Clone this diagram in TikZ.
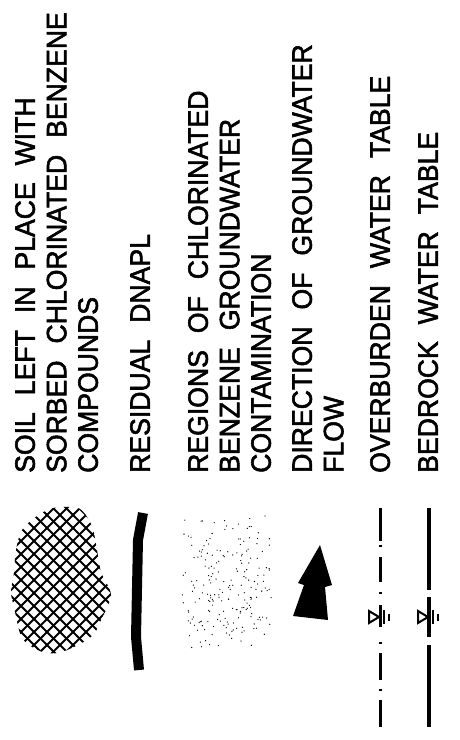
\documentclass[tikz,border=0pt]{standalone}
\usepackage{fontspec}
\setmainfont{Liberation Sans}[FakeStretch=0.95,WordSpace=2.3,FakeBold=2]
\usetikzlibrary{positioning}
\tikzset{legendtext/.style = {rotate=90, anchor=north west, inner sep=0,
                              align=left, font=\fontsize{28}{31.5}\selectfont}}
\tikzset{hatchline/.style = {line width=2}}
\tikzset{dnapl/.style = {line width=10, line join=round}}
\tikzset{obline/.style = {line width=3}}
\tikzset{brline/.style = {line width=3.5}}
\tikzset{wtsymbol/.pic = {
    \draw[line width=2] (-11,-6) -- (-11,6) -- (-1,0) -- cycle;
    \draw[line width=2] (4,-7) -- (4,7);
    \draw[line width=2] (9,-3.5) -- (9,3.5);
}}

\begin{document}
\begin{tikzpicture}[x=1pt,y=-1pt]
    \useasboundingbox (0,0) rectangle (459,740);
    % legend texts
    \node[legendtext] (soil) at (15,473)
        {SOIL LEFT IN PLACE WITH\\SORBED CHLORINATED BENZENE\\COMPOUNDS};
    \node[legendtext] (dnapl) at (130,473) {RESIDUAL DNAPL};
    \node[legendtext] (regions) at (188,473)
        {REGIONS OF CHLORINATED\\BENZENE GROUNDWATER\\CONTAMINATION};
    \node[legendtext] (flow) at (292,473) {DIRECTION OF GROUNDWATER\\FLOW};
    \node[legendtext] (overburden) at (370,473) {OVERBURDEN WATER TABLE};
    \node[legendtext] (bedrock) at (418,473) {BEDROCK WATER TABLE};
    % cross hatched soil
    \begin{scope}
      \clip plot[smooth cycle] coordinates {(62,507) (80,509) (92,526) (97,550)
          (101,572) (111,595) (101,620) (94,634) (80,644) (58,653) (40,651)
          (22,638) (14,607) (11,592) (14,573) (16,550) (22,530) (37,516) (50,509)};
      \foreach \k in {-150,-137,...,114} {
        \draw[hatchline] (\k,500) -- ++(160,160);
        \draw[hatchline] (\k,660) -- ++(160,-160);
      }
    \end{scope}
    % residual dnapl
    \draw[dnapl] (143,513) -- (138,540) -- (136,637) -- (139,670);
    % stippled plume
    \pgfmathsetseed{4}
    \foreach \i in {1,...,210} {
      \pgfmathsetmacro{\dotx}{226+47*sqrt(rnd)*cos(360*rnd)}
      \pgfmathsetmacro{\doty}{582+70*sqrt(rnd)*sin(360*rnd)}
      \fill (\dotx,\doty) circle (0.65);
    }
    % flow arrow
    \fill (320,545) -- (332,585) -- (325,587) -- (328,620) -- (293,616)
          -- (304,585) -- (298,583) -- cycle;
    % overburden water table
    \foreach \a/\b in {508/541, 545/547, 557/582, 592/594, 605/627,
                       642/644, 653/680, 689/691, 700/727}
      \draw[obline] (380,\a) -- (380,\b);
    \pic at (380,617) {wtsymbol};
    % bedrock water table
    \foreach \a/\b in {508/590, 597/637, 645/727}
      \draw[brline] (429,\a) -- (429,\b);
    \pic at (429,617) {wtsymbol};
\end{tikzpicture}
\end{document}
